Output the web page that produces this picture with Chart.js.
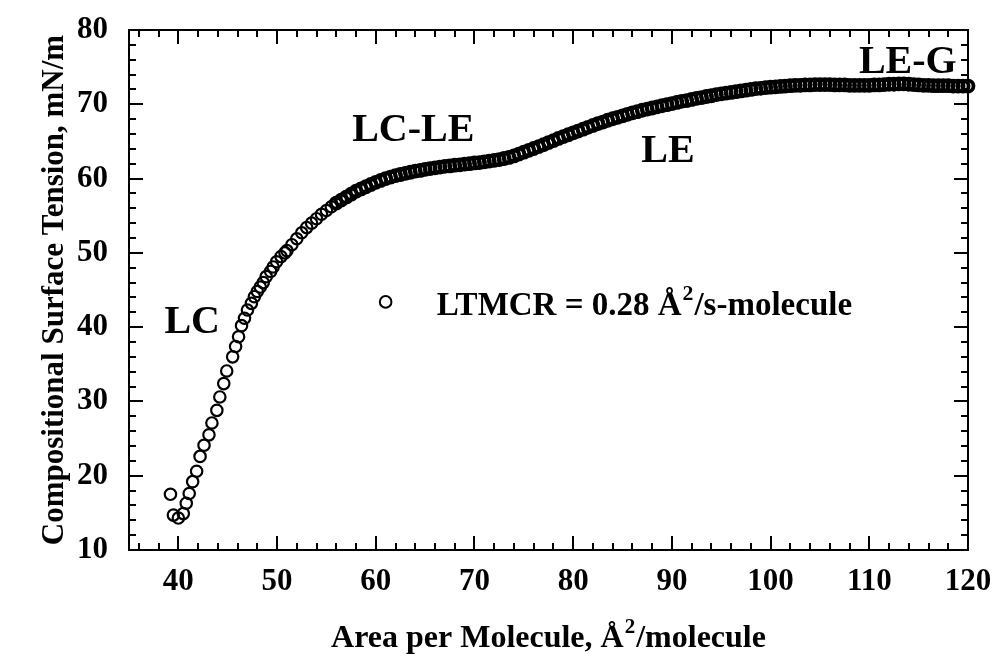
<!DOCTYPE html>
<html>
<head>
<meta charset="utf-8">
<script src="https://cdn.jsdelivr.net/npm/chart.js@4.4.1/dist/chart.umd.min.js"></script>
<style>
  html, body { margin: 0; padding: 0; background: #fff; }
  #wrap { width: 995px; height: 657px; }
</style>
</head>
<body>
<div id="wrap"><canvas id="isotherm"></canvas></div>
<script>
// area per molecule (A^2/molecule) and surface tension (mN/m)
const area = [
  39.2, 39.5, 40.0, 40.5, 40.8, 41.1, 41.45, 41.85, 42.2, 42.6,
  43.1, 43.4, 43.9, 44.2, 44.6, 44.9, 45.5, 45.8, 46.1, 46.4,
  46.7, 47.0, 47.4, 47.7, 48.0, 48.3, 48.6, 48.9, 49.35, 49.6,
  49.95, 50.4, 50.8,
  51, 51.5, 52, 52.5, 53, 53.5, 54, 54.5, 55, 55.5,
  56, 56.5, 57, 57.5, 58, 58.5, 59, 59.5, 60, 60.5,
  61, 61.5, 62, 62.5, 63, 63.5, 64, 64.5, 65, 65.5,
  66, 66.5, 67, 67.5, 68, 68.5, 69, 69.5, 70, 70.5,
  71, 71.5, 72, 72.5, 73, 73.5, 74, 74.5, 75, 75.5,
  76, 76.5, 77, 77.5, 78, 78.5, 79, 79.5, 80, 80.5,
  81, 81.5, 82, 82.5, 83, 83.5, 84, 84.5, 85, 85.5,
  86, 86.5, 87, 87.5, 88, 88.5, 89, 89.5, 90, 90.5,
  91, 91.5, 92, 92.5, 93, 93.5, 94, 94.5, 95, 95.5,
  96, 96.5, 97, 97.5, 98, 98.5, 99, 99.5, 100, 100.5,
  101, 101.5, 102, 102.5, 103, 103.5, 104, 104.5, 105, 105.5,
  106, 106.5, 107, 107.5, 108, 108.5, 109, 109.5, 110, 110.5,
  111, 111.5, 112, 112.5, 113, 113.5, 114, 114.5, 115, 115.5,
  116, 116.5, 117, 117.5, 118, 118.5, 119, 119.5, 120
];
const tension = [
  17.5, 14.7, 14.3, 14.9, 16.3, 17.6, 19.2, 20.6, 22.6, 24.1,
  25.5, 27.1, 28.8, 30.6, 32.4, 34.1, 36.0, 37.4, 38.7, 40.2,
  41.2, 42.3, 43.2, 44.1, 44.8, 45.4, 46.0, 46.8, 47.5, 48.1,
  48.8, 49.5, 50.0,
  50.3, 51.1, 51.9, 52.7, 53.4, 54.0, 54.6, 55.2, 55.7, 56.2,
  56.7, 57.1, 57.5, 57.9, 58.3, 58.6, 58.9, 59.2, 59.5, 59.75,
  60.0, 60.2, 60.4, 60.55, 60.7, 60.85, 61.0, 61.1, 61.25, 61.35,
  61.45, 61.55, 61.65, 61.7, 61.8, 61.85, 61.95, 62.0, 62.1, 62.15,
  62.25, 62.35, 62.45, 62.55, 62.7, 62.85, 63.05, 63.3, 63.55, 63.8,
  64.05, 64.3, 64.55, 64.85, 65.1, 65.4, 65.65, 65.9, 66.15, 66.4,
  66.65, 66.9, 67.15, 67.4, 67.6, 67.85, 68.05, 68.25, 68.45, 68.65,
  68.85, 69.0, 69.2, 69.35, 69.5, 69.65, 69.8, 69.95, 70.1, 70.25,
  70.4, 70.5, 70.65, 70.8, 70.9, 71.05, 71.15, 71.3, 71.4, 71.5,
  71.6, 71.7, 71.8, 71.9, 72.0, 72.1, 72.15, 72.25, 72.3, 72.35,
  72.4, 72.45, 72.5, 72.55, 72.55, 72.6, 72.6, 72.65, 72.65, 72.65,
  72.65, 72.6, 72.6, 72.6, 72.55, 72.55, 72.55, 72.55, 72.55, 72.6,
  72.6, 72.65, 72.7, 72.7, 72.75, 72.75, 72.7, 72.65, 72.6, 72.55,
  72.55, 72.5, 72.5, 72.5, 72.5, 72.45, 72.45, 72.45, 72.45
];
const xTickValues = [40, 50, 60, 70, 80, 90, 100, 110, 120];
const yTickValues = [10, 20, 30, 40, 50, 60, 70, 80];
const phaseLabels = ['LC', 'LC-LE', 'LE', 'LE-G'];
const seriesLabel = 'LTMCR = 0.28 Å²/s-molecule';
const xTitle = 'Area per Molecule, Å²/molecule';
const yTitle = 'Compositional Surface Tension, mN/m';

// where the phase labels and the key sit, in data units
const phaseSpots = [[41.4, 40.6], [63.8, 66.5], [89.6, 63.6], [113.9, 75.6]];
const keySpot = [61.0, 43.4];

const FAMILY = '"Liberation Serif", "Times New Roman", serif';
const font = size => 'bold ' + size + 'px ' + FAMILY;

// text with a raised small "2" in place of the ² character
function richWidth(ctx, text, size) {
  let w = 0;
  for (const part of text.split(/(²)/)) {
    if (!part) continue;
    ctx.font = part === '²' ? font(size * 0.66) : font(size);
    w += ctx.measureText(part === '²' ? '2' : part).width + (part === '²' ? 2 : 0);
  }
  return w;
}
function drawRich(ctx, text, x, y, size, align) {
  let cx = align === 'center' ? x - richWidth(ctx, text, size) / 2 : x;
  ctx.textAlign = 'left';
  ctx.textBaseline = 'alphabetic';
  for (const part of text.split(/(²)/)) {
    if (!part) continue;
    if (part === '²') {
      ctx.font = font(size * 0.66);
      ctx.fillText('2', cx + 1, y - size * 0.44);
      cx += ctx.measureText('2').width + 2;
    } else {
      ctx.font = font(size);
      ctx.fillText(part, cx, y);
      cx += ctx.measureText(part).width;
    }
  }
}

// no extra room for the edge labels: the frame is placed by the layout padding
function noPad(s) {
  s.paddingTop = 0; s.paddingBottom = 0; s.paddingLeft = 0; s.paddingRight = 0;
}

const framePlugin = {
  id: 'framePlugin',
  afterDraw(chart) {
    const { ctx, chartArea: a, scales: { x, y } } = chart;
    ctx.save();
    ctx.strokeStyle = '#000';
    ctx.fillStyle = '#000';
    ctx.lineWidth = 2;
    ctx.strokeRect(a.left, a.top, a.right - a.left, a.bottom - a.top);

    ctx.beginPath();
    for (let v = 36; v <= 120; v += 2) {
      const px = Math.round(x.getPixelForValue(v));
      const len = v % 10 === 0 ? 14 : 7;
      ctx.moveTo(px, a.bottom); ctx.lineTo(px, a.bottom - len);
      ctx.moveTo(px, a.top); ctx.lineTo(px, a.top + len);
    }
    for (let v = 12; v < 80; v += 2) {
      const py = Math.round(y.getPixelForValue(v));
      const len = v % 10 === 0 ? 14 : 7;
      ctx.moveTo(a.left, py); ctx.lineTo(a.left + len, py);
      ctx.moveTo(a.right, py); ctx.lineTo(a.right - len, py);
    }
    ctx.stroke();

    // phase labels
    ctx.font = font(40);
    ctx.textAlign = 'center';
    ctx.textBaseline = 'middle';
    phaseLabels.forEach((t, i) => {
      ctx.fillText(t, x.getPixelForValue(phaseSpots[i][0]), y.getPixelForValue(phaseSpots[i][1]));
    });

    // key
    const kx = x.getPixelForValue(keySpot[0]);
    const ky = y.getPixelForValue(keySpot[1]);
    ctx.lineWidth = 2;
    ctx.beginPath();
    ctx.arc(kx, ky, 5.8, 0, Math.PI * 2);
    ctx.stroke();
    drawRich(ctx, seriesLabel, kx + 51, ky + 13, 33, 'left');

    // axis titles
    drawRich(ctx, xTitle, (a.left + a.right) / 2, 647, 32, 'center');
    ctx.translate(63, (a.top + a.bottom) / 2);
    ctx.rotate(-Math.PI / 2);
    drawRich(ctx, yTitle, 0, 0, 31, 'center');
    ctx.restore();
  }
};

new Chart(document.getElementById('isotherm'), {
  type: 'scatter',
  data: {
    datasets: [{
      label: seriesLabel,
      data: area.map((a, i) => ({ x: a, y: tension[i] })),
      showLine: false,
      pointStyle: 'circle',
      pointRadius: c => (c.raw && c.raw.x >= 56 ? 5.5 : 5.7),
      // the printed markers run together into a solid band where the run is dense
      pointBorderWidth: c => (c.raw && c.raw.x >= 56 ? 3.8 : 2.2),
      pointBackgroundColor: 'rgba(0,0,0,0)',
      pointBorderColor: '#000',
      clip: false
    }]
  },
  options: {
    responsive: true,
    maintainAspectRatio: false,
    animation: false,
    layout: { padding: { left: 0, right: 27, top: 30, bottom: 0 } },
    plugins: { legend: { display: false }, tooltip: { enabled: false } },
    scales: {
      x: {
        type: 'linear',
        min: 35,
        max: 120,
        afterBuildTicks: s => { s.ticks = xTickValues.map(v => ({ value: v })); },
        afterFit: s => { s.height = 107; noPad(s); },
        grid: { display: false, drawTicks: false },
        border: { display: false },
        ticks: {
          color: '#000',
          font: { family: FAMILY, size: 31, weight: 'bold' },
          padding: 13,
          maxRotation: 0,
          autoSkip: false
        }
      },
      y: {
        type: 'linear',
        min: 10,
        max: 80,
        afterBuildTicks: s => { s.ticks = yTickValues.map(v => ({ value: v })); },
        afterFit: s => { s.width = 129; noPad(s); },
        grid: { display: false, drawTicks: false },
        border: { display: false },
        ticks: {
          color: '#000',
          font: { family: FAMILY, size: 31, weight: 'bold' },
          padding: 21,
          autoSkip: false
        }
      }
    }
  },
  plugins: [framePlugin]
});
</script>
</body>
</html>
